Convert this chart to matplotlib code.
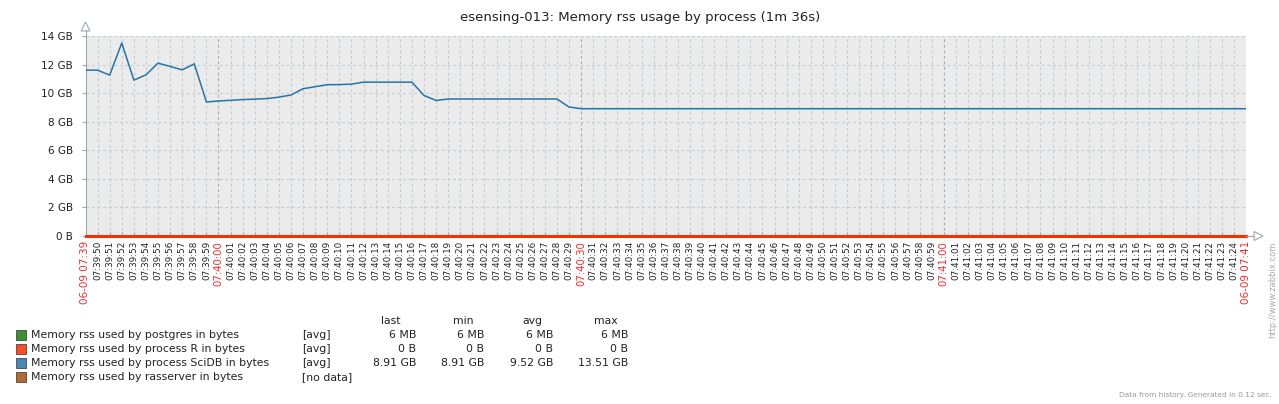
import matplotlib
matplotlib.use("Agg")
import matplotlib.pyplot as plt
from matplotlib.lines import Line2D
from matplotlib.patches import Rectangle, Polygon
import numpy as np
import pandas as pd

W, H = 1279, 404

title = "esensing-013: Memory rss usage by process (1m 36s)"
start_time = "2000-06-09 07:39:49"
n_seconds = 96

# SciDB memory (GB), one value per second from 07:39:49 to 07:41:25
scidb_gb = [11.61, 11.61, 11.26, 13.51, 10.91, 11.28, 12.10, 11.87, 11.63, 12.05,
            9.38, 9.45, 9.50, 9.55, 9.58, 9.62, 9.72, 9.87, 10.31, 10.45,
            10.59, 10.60, 10.63, 10.77, 10.77, 10.77, 10.77, 10.77, 9.84, 9.49,
            9.59, 9.59, 9.59, 9.59, 9.59, 9.59, 9.59, 9.59, 9.59, 9.59,
            9.03] + [8.91] * 56
postgres_gb = [0.006] * 97
r_gb = [0.0] * 97

yticks = [0, 2, 4, 6, 8, 10, 12, 14]
ytick_labels = ["0 B", "2 GB", "4 GB", "6 GB", "8 GB", "10 GB", "12 GB", "14 GB"]

legend_names = ["Memory rss used by postgres in bytes",
                "Memory rss used by process R in bytes",
                "Memory rss used by process SciDB in bytes",
                "Memory rss used by rasserver in bytes"]
legend_func = ["[avg]", "[avg]", "[avg]", "[no data]"]
col_last = ["6 MB", "0 B", "8.91 GB", ""]
col_min = ["6 MB", "0 B", "8.91 GB", ""]
col_avg = ["6 MB", "0 B", "9.52 GB", ""]
col_max = ["6 MB", "0 B", "13.51 GB", ""]
series_colors = ["#1A7C11", "#F63100", "#2774A4", "#A54F10"]

times = pd.date_range(start_time, periods=n_seconds + 1, freq="s")
xs = np.arange(n_seconds + 1)

plt.rcParams['font.family'] = ['DejaVu Sans']

fig = plt.figure(figsize=(W / 100, H / 100), dpi=100)
fig.patch.set_facecolor("white")

def fx(x):
    return x / W

def fy(y):
    return 1 - y / H

L, R, T, B = 85.5, 1246, 36, 236
ax = fig.add_axes([fx(L), fy(B), fx(R) - fx(L), fy(T) - fy(B)])
ax.set_facecolor("#EBEBEB")
ax.set_xlim(0, n_seconds)
ax.set_ylim(0, 14)

grid_c = "#C2CAD1"
major_c = "#A3ADB5"
for i in range(1, n_seconds):
    t = times[i]
    major = (t.second % 30 == 0)
    ax.axvline(i, color=major_c if major else grid_c, lw=0.8,
               ls=(0, (2.5, 2.5)), zorder=1)
for yv in yticks[1:]:
    ax.axhline(yv, color=grid_c, lw=0.8, ls=(0, (2.5, 2.5)), zorder=1)
ax.axvline(n_seconds, color=grid_c, lw=0.8, ls=(0, (2.5, 2.5)), zorder=1)

ax.plot(xs, postgres_gb, color=series_colors[0], lw=0.8, zorder=3)
ax.plot(xs, r_gb, color=series_colors[1], lw=2.2, zorder=6, clip_on=False)
ax.plot(xs, scidb_gb, color=series_colors[2], lw=1.1, zorder=5)

for s in ["top", "right"]:
    ax.spines[s].set_visible(False)
ax.spines["left"].set_color("#A0A8B0")
ax.spines["bottom"].set_color("#A0A8B0")
ax.spines["bottom"].set_zorder(2)

ax.set_yticks(yticks)
ax.set_yticklabels(ytick_labels, fontsize=7.5, color="#222222")
ax.tick_params(axis="y", length=3, color="#A0A8B0", pad=6)

ax.set_xticks(range(1, n_seconds))
ax.set_xticklabels([])
ax.tick_params(axis="x", direction="in", length=3, color="#A0A8B0")

# x labels
label_top = 241
for i in range(1, n_seconds):
    t = times[i]
    major = (t.second % 30 == 0)
    xp = L + (R - L) * i / n_seconds
    fig.text(fx(xp), fy(label_top), t.strftime("%H:%M:%S"), rotation=90,
             ha="center", va="top", fontsize=7.3 if major else 6.3,
             color="#F22C2C" if major else "#222222")
fig.text(fx(L), fy(label_top), times[0].strftime("%m-%d %H:%M"), rotation=90,
         ha="center", va="top", fontsize=7.5, color="#F22C2C")
fig.text(fx(R), fy(label_top), times[-1].strftime("%m-%d %H:%M"), rotation=90,
         ha="center", va="top", fontsize=7.5, color="#F22C2C")

# axis arrows
arrow_c = "#A0A8B0"
fig.add_artist(Line2D([fx(L), fx(L)], [fy(T), fy(30)], color=arrow_c, lw=0.8))
fig.add_artist(Polygon([[fx(L - 4.5), fy(31)], [fx(L + 4.5), fy(31)], [fx(L), fy(22)]],
                       closed=True, fill=False, edgecolor=arrow_c, lw=0.8))
fig.add_artist(Line2D([fx(R), fx(1254)], [fy(B), fy(B)], color=arrow_c, lw=0.8))
fig.add_artist(Polygon([[fx(1254), fy(B - 4.5)], [fx(1254), fy(B + 4.5)], [fx(1263), fy(B)]],
                       closed=True, fill=False, edgecolor=arrow_c, lw=0.8))

# title
fig.text(fx(640), fy(18), title, ha="center", va="center", fontsize=9.5, color="#222222")

# legend
row_y = [335, 349, 363, 377]
fs = 7.8
fig.text(fx(391), fy(321), "last", ha="center", va="center", fontsize=fs, color="#222222")
fig.text(fx(463), fy(321), "min", ha="center", va="center", fontsize=fs, color="#222222")
fig.text(fx(532), fy(321), "avg", ha="center", va="center", fontsize=fs, color="#222222")
fig.text(fx(606), fy(321), "max", ha="center", va="center", fontsize=fs, color="#222222")
for k in range(4):
    y = row_y[k]
    fig.add_artist(Rectangle((fx(15.5), fy(y + 5)), fx(10), fy(0) - fy(10),
                             facecolor=series_colors[k], edgecolor="#333333", lw=0.6,
                             alpha=0.85))
    fig.text(fx(31), fy(y), legend_names[k], ha="left", va="center", fontsize=fs, color="#222222")
    fig.text(fx(302), fy(y), legend_func[k], ha="left", va="center", fontsize=fs, color="#222222")
    fig.text(fx(416), fy(y), col_last[k], ha="right", va="center", fontsize=fs, color="#222222")
    fig.text(fx(484), fy(y), col_min[k], ha="right", va="center", fontsize=fs, color="#222222")
    fig.text(fx(553), fy(y), col_avg[k], ha="right", va="center", fontsize=fs, color="#222222")
    fig.text(fx(628), fy(y), col_max[k], ha="right", va="center", fontsize=fs, color="#222222")

fig.text(fx(1272), fy(395), "Data from history. Generated in 0.12 sec.", ha="right",
         va="center", fontsize=5.3, color="#999999")
fig.text(fx(1273), fy(242), "http://www.zabbix.com", rotation=90, ha="center",
         va="top", fontsize=6, color="#AAAAAA")

fig.savefig("out.png", dpi=100, facecolor="white")
